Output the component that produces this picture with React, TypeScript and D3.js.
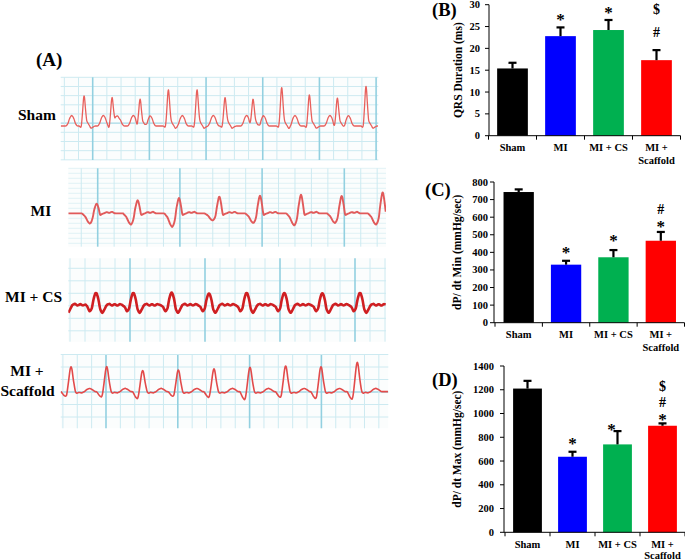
import React from "react";
import * as d3 from "d3";

const FONT = "'Liberation Serif','Times New Roman',serif";

// ---------- Bar chart data ----------
const groups = ["Sham", "MI", "MI + CS", "MI + Scaffold"];
const groupLines = [["Sham"], ["MI"], ["MI + CS"], ["MI +", "Scaffold"]];
const barColors = ["#000000", "#0000ff", "#00b050", "#ff0000"];

const qrsMean = [15.4, 22.8, 24.2, 17.3];
const qrsErr = [1.3, 2.0, 2.3, 2.3];
const qrsTicks = [0, 5, 10, 15, 20, 25, 30];
const qrsMarks: [number, string, number, number][] = [
  [1, "*", 27.2, 0], [2, "*", 28.8, 0], [3, "$", 28.9, 0], [3, "#", 23.8, 0],
];

const minMean = [743, 330, 372, 466];
const minErr = [15, 22, 41, 50];
const minTicks = [0, 100, 200, 300, 400, 500, 600, 700, 800];
const minMarks: [number, string, number, number][] = [
  [1, "*", 413, 0], [2, "*", 480, 0], [3, "*", 559, 0], [3, "#", 645, 0],
];

const maxMean = [1210, 636, 740, 897];
const maxErr = [65, 42, 112, 20];
const maxTicks = [0, 200, 400, 600, 800, 1000, 1200, 1400];
const maxMarks: [number, string, number, number][] = [
  [1, "*", 768, 0], [2, "*", 889, -6], [3, "*", 973, 0], [3, "#", 1091, 0], [3, "$", 1226, 0],
];

// ---------- ECG data (time units, voltage units) ----------
type Pt = [number, number];

const shamBeatTimes = [70, 154, 238, 323, 409, 493, 577, 663, 746, 830, 916];
const shamBeatAmps = [88, 83, 78, 108, 108, 83, 78, 115, 91, 81, 118];
const shamWaveTimes = [33, 128, 173, 218, 268, 365, 458, 558, 608, 703, 808, 863];
const shamSpike: Pt[] = [[-8, 0], [-4, 0.5], [-1.5, 0.93], [0, 1], [1.5, 0.93], [4, 0.5], [8, 0]];
const shamComplex: Pt[] = [[-14, 0], [-10, -5], [-6, 0], [5, 12], [9, 14], [13, 6], [17, 0], [21, -8], [27, -3], [33, 0]];
const shamWave: Pt[] = [[-16, 0], [-11, 8], [-6, 24], [0, 33], [6, 24], [11, 8], [16, 0]];

const miBeatTimes = [85, 208, 332, 453, 575, 698, 820, 943];
const miBeatAmps = [30, 40, 47, 52, 55, 57, 53, 65];
const miTroughDepths = [32, 35, 42, 22, 30, 37, 30, 35];
const miSpike: Pt[] = [[-11, 0], [-5, 0.6], [-2, 0.93], [0, 1], [2, 0.93], [5, 0.6], [10, 0]];
const miTrough: Pt[] = [[-44, 0], [-34, -0.3], [-26, -0.8], [-20, -1], [-15, -0.75], [-8, 0]];
const miPost: Pt[] = [[7, 0], [11, -6], [16, -2], [22, 0], [30, 4], [38, 1], [46, 5], [54, 0]];

const csBeatTimes = [-20, 83, 195, 310, 422, 535, 648, 762, 875];
const csBeatAmps = [37, 37, 37, 38, 35, 37, 37, 36, 37];
const csSpike: Pt[] = [[-12, 0], [-7, 0.5], [-3, 0.9], [0, 1], [3, 0.9], [7, 0.5], [12, 0]];
const csBody: Pt[] = [[-34, 0], [-26, -5], [-19, -20], [-13, -12], [-8, 0], [8, 0], [13, -14], [19, -25], [25, -14], [32, 0], [40, 4], [48, -2], [56, 3], [64, -2], [72, 3], [80, 0]];

const scBeatTimes = [31, 138, 246, 353, 460, 568, 675, 781, 890];
const scBeatAmps = [77, 77, 65, 67, 70, 75, 80, 77, 90];
const scDipDepths = [15, 17, 22, 15, 18, 25, 18, 22, 24];
const scSpike: Pt[] = [[-13, 0], [-7, 0.45], [-2.5, 0.92], [0, 1], [2.5, 0.92], [7, 0.45], [13, 0]];
const scDip: Pt[] = [[-30, 0], [-22, -0.7], [-16, -1], [-11, -0.5], [-6, 0]];
const scPost: Pt[] = [[12, 0], [17, -5], [24, -2], [32, -4], [40, 0], [48, 7], [56, 10], [64, 6], [72, 0]];

// ---------- helpers ----------
function shapeAt(shape: Pt[], x: number): number {
  if (x <= shape[0][0] || x >= shape[shape.length - 1][0]) return 0;
  for (let i = 1; i < shape.length; i++) {
    if (x <= shape[i][0]) {
      const [x0, y0] = shape[i - 1];
      const [x1, y1] = shape[i];
      return y0 + ((y1 - y0) * (x - x0)) / (x1 - x0);
    }
  }
  return 0;
}
type Feature = { t: number; shape: Pt[]; k: number };
function buildTrace(features: Feature[], t0: number, t1: number, step = 2): Pt[] {
  const out: Pt[] = [];
  for (let t = t0; t <= t1; t += step) {
    let v = 0;
    for (const f of features) v += f.k * shapeAt(f.shape, t - f.t);
    out.push([t, v]);
  }
  return out;
}

const shamFeatures: Feature[] = [
  ...shamBeatTimes.map((t, i) => ({ t, shape: shamSpike, k: shamBeatAmps[i] })),
  ...shamBeatTimes.map((t) => ({ t, shape: shamComplex, k: 1 })),
  ...shamWaveTimes.map((t) => ({ t, shape: shamWave, k: 1 })),
];
const miFeatures: Feature[] = [
  ...miBeatTimes.map((t, i) => ({ t, shape: miSpike, k: miBeatAmps[i] })),
  ...miBeatTimes.map((t, i) => ({ t, shape: miTrough, k: miTroughDepths[i] })),
  ...miBeatTimes.map((t) => ({ t, shape: miPost, k: 1 })),
];
const csFeatures: Feature[] = [
  ...csBeatTimes.map((t, i) => ({ t, shape: csSpike, k: csBeatAmps[i] })),
  ...csBeatTimes.map((t) => ({ t, shape: csBody, k: 1 })),
];
const scFeatures: Feature[] = [
  ...scBeatTimes.map((t, i) => ({ t, shape: scSpike, k: scBeatAmps[i] })),
  ...scBeatTimes.map((t, i) => ({ t, shape: scDip, k: scDipDepths[i] })),
  ...scBeatTimes.map((t) => ({ t, shape: scPost, k: 1 })),
];

type EcgCfg = {
  id: string;
  x0: number; x1: number; yTop: number; yBot: number;
  tMax: number; vTop: number; vBot: number;
  vMajor: number; vStep: number; vSkip: number;
  hStart: number; hStep: number; hMajorIdx: number;
  features: Feature[]; color: string; width: number;
};

const ecgPanels: EcgCfg[] = [
  { id: "sham", x0: 60.7, x1: 378.3, yTop: 77.3, yBot: 160, tMax: 953, vTop: 146, vBot: -102,
    vMajor: 92.7, vStep: 14.17, vSkip: 4, hStart: 77.3, hStep: 9.17, hMajorIdx: 5,
    features: shamFeatures, color: "#e8605c", width: 1.3 },
  { id: "mi", x0: 68.3, x1: 386, yTop: 168.3, yBot: 246.7, tMax: 953, vTop: 135, vBot: -100,
    vMajor: 97.7, vStep: 16.44, vSkip: 5, hStart: 168.3, hStep: 5, hMajorIdx: -1,
    features: miFeatures, color: "#e15a5a", width: 1.9 },
  { id: "cs", x0: 68.3, x1: 386, yTop: 258.3, yBot: 341.7, tMax: 953, vTop: 140, vBot: -110,
    vMajor: 130, vStep: 15, vSkip: 5, hStart: 268.3, hStep: 12.5, hMajorIdx: -1,
    features: csFeatures, color: "#cf1f22", width: 2.6 },
  { id: "sc", x0: 60.7, x1: 388.3, yTop: 355, yBot: 428.3, tMax: 983, vTop: 110, vBot: -110,
    vMajor: 106, vStep: 14.36, vSkip: 5, hStart: 354.5, hStep: 12.5, hMajorIdx: 3,
    features: scFeatures, color: "#e24a4a", width: 1.6 },
];

function EcgPanel({ c }: { c: EcgCfg }) {
  const x = d3.scaleLinear().domain([0, c.tMax]).range([c.x0, c.x1]);
  const y = d3.scaleLinear().domain([c.vBot, c.vTop]).range([c.yBot, c.yTop]);
  const pts = buildTrace(c.features, 0, c.tMax, 2);
  const line = d3.line<Pt>().x((d) => x(d[0])).y((d) => y(d[1])).curve(d3.curveBasis);
  const vLines: { x: number; major: boolean }[] = [];
  for (let k = -40; k <= 40; k++) {
    const xx = c.vMajor + k * c.vStep;
    if (xx >= c.x0 - 0.5 && xx <= c.x1 + 0.5) vLines.push({ x: xx, major: ((k % c.vSkip) + c.vSkip) % c.vSkip === 0 });
  }
  const hLines: { y: number; major: boolean }[] = [];
  for (let k = 0; k < 60; k++) {
    const yy = c.hStart + k * c.hStep;
    if (yy <= c.yBot + 0.5) hLines.push({ y: yy, major: k === c.hMajorIdx });
  }
  const faint = c.id === "mi";
  return (
    <g>
      <defs>
        <clipPath id={"clip-" + c.id}>
          <rect x={c.x0} y={c.yTop - 6} width={c.x1 - c.x0} height={c.yBot - c.yTop + 12} />
        </clipPath>
      </defs>
      <rect x={c.x0} y={c.yTop} width={c.x1 - c.x0} height={c.yBot - c.yTop} fill="#fbfdfd" />
      {hLines.map((h, i) => (
        <line key={"h" + i} x1={c.x0} x2={c.x1} y1={h.y} y2={h.y}
          stroke={h.major ? "#a6d9e6" : faint ? "#e2f2f6" : "#cdeaf1"} strokeWidth={h.major ? 1.4 : 1} />
      ))}
      {vLines.map((v, i) => (
        <line key={"v" + i} x1={v.x} x2={v.x} y1={c.yTop} y2={c.yBot}
          stroke={v.major ? "#93d0e0" : "#cdeaf1"} strokeWidth={v.major ? 1.6 : 1} />
      ))}
      <path d={line(pts) || ""} fill="none" stroke={c.color} strokeWidth={c.width}
        strokeLinejoin="round" clipPath={`url(#clip-${c.id})`} />
    </g>
  );
}

type BarCfg = {
  axisX: number; bandStart: number; bandEnd: number; y0: number; yTopPx: number; yMax: number;
  gap: number; catBase: number; catStep: number; yLabelX: number; letter: string; letterX: number; letterBase: number;
  yLabel: string;
};

function BarPanel({ c, means, errs, ticks, marks }: {
  c: BarCfg; means: number[]; errs: number[]; ticks: number[]; marks: [number, string, number, number][];
}) {
  const x = d3.scaleBand<string>().domain(groups).range([c.bandStart, c.bandEnd]).paddingInner(0.36).paddingOuter(0.18);
  const y = d3.scaleLinear().domain([0, c.yMax]).range([c.y0, c.yTopPx]);
  const step = x.step();
  const bw = x.bandwidth();
  const boundaries = d3.range(5).map((k) => c.bandStart + k * step);
  return (
    <g fontFamily={FONT} fontWeight="bold">
      {groups.map((g, i) => (
        <rect key={g} x={x(g)!} y={y(means[i])} width={bw} height={c.y0 - y(means[i])} fill={barColors[i]} />
      ))}
      {groups.map((g, i) => {
        const cx = x(g)! + bw / 2;
        const top = y(means[i] + errs[i]);
        return (
          <g key={"e" + g} stroke="#000" strokeWidth={2.2}>
            <line x1={cx} x2={cx} y1={y(means[i])} y2={top} />
            <line x1={cx - 4} x2={cx + 4} y1={top} y2={top} />
          </g>
        );
      })}
      <line x1={c.axisX} x2={c.axisX} y1={c.yTopPx} y2={c.y0} stroke="#000" strokeWidth={1} />
      <line x1={c.axisX} x2={c.bandEnd} y1={c.y0} y2={c.y0} stroke="#000" strokeWidth={1} />
      {ticks.map((t) => (
        <g key={t}>
          <line x1={c.axisX - 4} x2={c.axisX} y1={y(t)} y2={y(t)} stroke="#000" />
          <text x={c.axisX - c.gap} y={y(t)} textAnchor="end" dominantBaseline="central" fontSize={10.5}>{t}</text>
        </g>
      ))}
      {boundaries.map((b, i) => (
        <line key={"b" + i} x1={b} x2={b} y1={c.y0} y2={c.y0 + 4} stroke="#000" />
      ))}
      {groups.map((g, i) => (
        <text key={"l" + g} x={x(g)! + bw / 2} y={c.catBase} textAnchor="middle" fontSize={10.5}>
          {groupLines[i].map((s, j) => (
            <tspan key={j} x={x(g)! + bw / 2} y={c.catBase + j * c.catStep}>{s}</tspan>
          ))}
        </text>
      ))}
      <text transform={`translate(${c.yLabelX},${(c.y0 + c.yTopPx) / 2}) rotate(-90)`} textAnchor="middle"
        dominantBaseline="central" fontSize={11.5}>{c.yLabel}</text>
      <text x={c.letterX} y={c.letterBase} fontSize={18.5}>{c.letter}</text>
      {marks.map(([gi, s, v, dx], i) => {
        const cx = x(groups[gi])! + bw / 2 + dx;
        const fs = s === "*" ? 17 : 14;
        const base = s === "*" ? y(v) + 0.47 * fs : y(v) + 0.34 * fs;
        return (
          <text key={"m" + i} x={cx} y={base} textAnchor="middle" fontSize={fs}>{s}</text>
        );
      })}
    </g>
  );
}

const cfgB: BarCfg = { axisX: 489, bandStart: 488.5, bandEnd: 680.5, y0: 135.7, yTopPx: 4.7, yMax: 30,
  gap: 9, catBase: 150.5, catStep: 13, yLabelX: 458, letter: "(B)", letterX: 432, letterBase: 16, yLabel: "QRS Duration (ms)" };
const cfgC: BarCfg = { axisX: 494, bandStart: 495, bandEnd: 684.5, y0: 322.7, yTopPx: 182, yMax: 800,
  gap: 6, catBase: 338, catStep: 12.5, yLabelX: 457, letter: "(C)", letterX: 425, letterBase: 196, yLabel: "dP/ dt Min (mmHg/sec)" };
const cfgD: BarCfg = { axisX: 504, bandStart: 505, bandEnd: 685, y0: 532.3, yTopPx: 366, yMax: 1400,
  gap: 10, catBase: 547.5, catStep: 11, yLabelX: 457, letter: "(D)", letterX: 432, letterBase: 386, yLabel: "dP/ dt Max (mmHg/sec)" };

export default function App() {
  return (
    <svg width={685} height={560} style={{ position: "absolute", left: 0, top: 0, background: "#fff" }}
      fontFamily={FONT}>
      <rect x={0} y={0} width={685} height={560} fill="#fff" />
      {ecgPanels.map((c) => <EcgPanel key={c.id} c={c} />)}
      <g fontWeight="bold" fill="#000">
        <text x={36} y={65.5} fontSize={19}>(A)</text>
        <text x={18} y={120} fontSize={15.5}>Sham</text>
        <text x={30.5} y={215.5} fontSize={15.5}>MI</text>
        <text x={5} y={302} fontSize={15.5}>MI + CS</text>
        <text x={27} y={375.5} fontSize={15.5} textAnchor="middle">MI +</text>
        <text x={27.5} y={395.5} fontSize={15.5} textAnchor="middle">Scaffold</text>
      </g>
      <BarPanel c={cfgB} means={qrsMean} errs={qrsErr} ticks={qrsTicks} marks={qrsMarks} />
      <BarPanel c={cfgC} means={minMean} errs={minErr} ticks={minTicks} marks={minMarks} />
      <BarPanel c={cfgD} means={maxMean} errs={maxErr} ticks={maxTicks} marks={maxMarks} />
    </svg>
  );
}
